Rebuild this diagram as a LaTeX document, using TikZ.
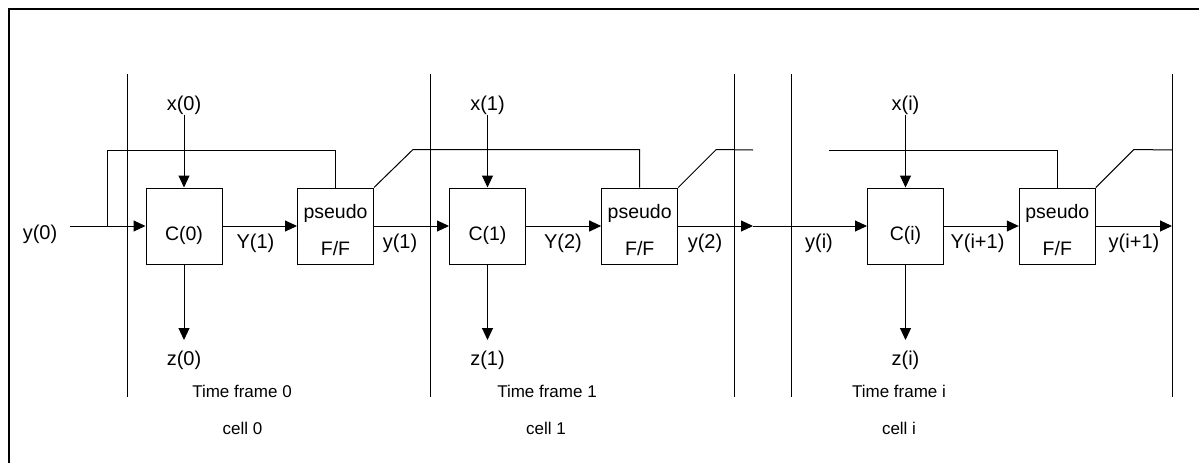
\documentclass[tikz,border=0pt]{standalone}
\usepackage{fontspec}
\setmainfont{Liberation Sans}
\usetikzlibrary{arrows.meta}

% text shifted inside a box, takes no room
\newcommand{\shiftlbl}[2]{\makebox[0pt]{\raisebox{#1}[0pt][0pt]{#2}}}

\tikzset{
  cellbox/.style={draw, minimum size=76pt, inner sep=0pt, font=\fontsize{19.5}{23}\selectfont},
  lbl/.style={inner sep=0pt, anchor=base, font=\fontsize{20}{24}\selectfont},
  captxt/.style={inner sep=0pt, anchor=base, font=\fontsize{17}{20}\selectfont},
  arr/.style={-{Triangle[length=12pt,width=11pt]}},
}

\begin{document}
\begin{tikzpicture}[x=1pt, y=-1pt, line width=1pt]
    \useasboundingbox (0,0) rectangle (1199,463);
    % frame
    \draw[line width=2pt] (9,463) -- (9,9) -- (1199,9);
    % time frame borders
    \foreach \x in {127,430.5,734,791,1172}
	\draw (\x,74) -- (\x,397);
    % cells
    \foreach \n/\cx/\fx in {0/184/335.5, 1/487.5/639.7, i/905.5/1057.3} {
	\node[cellbox] (c\n) at (\cx,226) {\shiftlbl{-14pt}{C(\n)}};
	\node[cellbox] (ff\n) at (\fx,226) {\shiftlbl{8pt}{pseudo}\shiftlbl{-29pt}{F/F}};
	\node[lbl] (x\n) at (\cx,110) {x(\n)};
	\node[lbl] (z\n) at (\cx,365) {z(\n)};
	\draw[arr] (x\n) -- (c\n);
	\draw[arr, shorten >=10pt] (c\n) -- (z\n);
	\draw[arr] (c\n) -- (ff\n);
    }
    \coordinate (in0) at (70,226);
    \coordinate (j0) at (107,226);
    \coordinate (fb) at (0,150);
    \coordinate (mid) at (753,226);
    \coordinate (out) at (1172,226);
    \coordinate (cut1) at (753,150);
    \coordinate (cut2) at (829,150);
    \coordinate (endi) at (1172,150);
    % data path
    \draw[arr] (in0) -- (c0);
    \draw[arr] (ff0) -- (c1);
    \draw[arr] (ff1) -- (mid);
    \draw[arr] (mid) -- (ci);
    \draw[arr] (ffi) -- (out);
    % feedback
    \draw (ff0.north) -- (ff0.north |- fb) -| (j0);
    \draw (ff0.north east) -- ++(39,-38) -| (ff1.north);
    \draw (ff1.north east) -- ++(38,-38) -- (cut1);
    \draw (cut2) -| (ffi.north);
    \draw (ffi.north east) -- ++(38,-38) -- (endi);
    % labels
    \node[lbl] (y0) at (40,239) {y(0)};
    \node[lbl] (Y1) at (255.5,248) {Y(1)};
    \node[lbl] (yo1) at (400,248) {y(1)};
    \node[lbl] (Y2) at (563,248) {Y(2)};
    \node[lbl] (yo2) at (705,248) {y(2)};
    \node[lbl] (yi) at (819,248) {y(i)};
    \node[lbl] (Yi1) at (977.5,248) {Y(i+1)};
    \node[lbl] (yoi1) at (1134,248) {y(i+1)};
    \node[captxt] (tf0) at (242,397) {Time frame 0};
    \node[captxt] (cl0) at (242.5,434) {cell 0};
    \node[captxt] (tf1) at (547,397) {Time frame 1};
    \node[captxt] (cl1) at (546,434) {cell 1};
    \node[captxt] (tfi) at (899,397) {Time frame i};
    \node[captxt] (cli) at (899,434) {cell i};
\end{tikzpicture}
\end{document}
